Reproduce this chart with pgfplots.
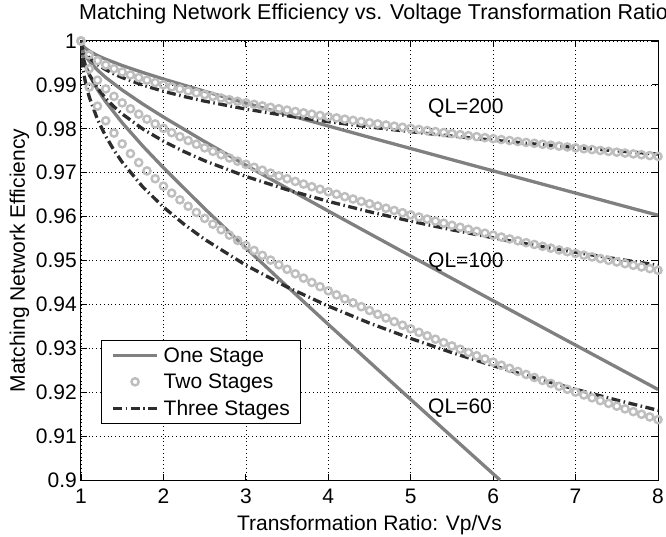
\documentclass[border=0pt]{standalone}
\usepackage{fontspec}
\setmainfont{Liberation Sans}
\usepackage{pgfplots}
\usepackage{pgfplotstable}
\pgfplotsset{compat=1.18}
\definecolor{oneC}{RGB}{128,128,128}
\definecolor{twoC}{RGB}{190,190,190}
\definecolor{threeC}{RGB}{45,45,45}
\newcommand{\fs}{\fontsize{21}{25}\selectfont}
\pgfplotsset{
  linelegend/.style={legend image code/.code={\draw[##1] (0pt,0pt) -- (44pt,0pt);}},
  marklegend/.style={legend image code/.code={\path (0pt,0pt) (44pt,0pt); \draw[##1] plot coordinates {(22pt,0pt)};}},
  onestyle/.style={oneC, line width=3.3pt},
  twostyle/.style={twoC, only marks, mark=o, mark size=3.6pt, line width=2.4pt, mark options={solid, line width=2.4pt, draw=twoC, fill=none}},
  threestyle/.style={threeC, line width=3.3pt, dash pattern=on 9pt off 3.5pt on 1.5pt off 3.5pt},
}

% One stage: QL=200 (a), QL=100 (b)
\pgfplotstableread{
x a b
1 1 1
1.01 0.99929 0.99858
1.02 0.99900 0.99799
1.05 0.99840 0.99680
1.1 0.99771 0.99542
1.2 0.99668 0.99337
1.3 0.99585 0.99169
1.5 0.99441 0.98882
1.75 0.99282 0.98564
2 0.99134 0.98268
2.5 0.98854 0.97709
3 0.98586 0.97172
3.5 0.98323 0.96646
4 0.98064 0.96127
4.5 0.97806 0.95613
5 0.97551 0.95101
5.5 0.97296 0.94592
6 0.97042 0.94084
6.5 0.96789 0.93577
7 0.96536 0.93072
7.5 0.96283 0.92567
8 0.96031 0.92063
}\onestage

% One stage: QL=60 (ends where it leaves the axis at 0.9)
\pgfplotstableread{
x c
1 1
1.01 0.99764
1.02 0.99665
1.05 0.99466
1.1 0.99236
1.2 0.98894
1.3 0.98616
1.5 0.98137
1.75 0.97606
2 0.97113
2.5 0.96181
3 0.95286
3.5 0.94410
4 0.93545
4.5 0.92688
5 0.91835
5.5 0.90986
6 0.90140
6.083 0.90000
}\onestagesixty

% Two stages
\pgfplotstableread{
x a b c
1.0 1.00000 1.00000 1.00000
1.1 0.99684 0.99369 0.98949
1.2 0.99553 0.99108 0.98515
1.3 0.99453 0.98908 0.98183
1.4 0.99369 0.98739 0.97903
1.5 0.99294 0.98591 0.97657
1.6 0.99227 0.98457 0.97435
1.7 0.99165 0.98334 0.97231
1.8 0.99108 0.98219 0.97041
1.9 0.99054 0.98112 0.96863
2.0 0.99003 0.98010 0.96694
2.1 0.98954 0.97913 0.96535
2.2 0.98908 0.97821 0.96382
2.3 0.98863 0.97733 0.96236
2.4 0.98820 0.97648 0.96095
2.5 0.98779 0.97566 0.95959
2.6 0.98739 0.97486 0.95828
2.7 0.98700 0.97409 0.95701
2.8 0.98663 0.97335 0.95578
2.9 0.98626 0.97262 0.95458
3.0 0.98591 0.97192 0.95342
3.1 0.98556 0.97123 0.95228
3.2 0.98522 0.97056 0.95117
3.3 0.98489 0.96990 0.95009
3.4 0.98457 0.96926 0.94903
3.5 0.98425 0.96863 0.94799
3.6 0.98394 0.96801 0.94697
3.7 0.98364 0.96741 0.94598
3.8 0.98334 0.96681 0.94500
3.9 0.98304 0.96623 0.94404
4.0 0.98275 0.96566 0.94310
4.1 0.98247 0.96510 0.94217
4.2 0.98219 0.96454 0.94126
4.3 0.98192 0.96400 0.94036
4.4 0.98165 0.96346 0.93948
4.5 0.98138 0.96293 0.93861
4.6 0.98112 0.96241 0.93775
4.7 0.98086 0.96190 0.93691
4.8 0.98060 0.96139 0.93608
4.9 0.98035 0.96089 0.93526
5.0 0.98010 0.96040 0.93444
5.1 0.97985 0.95991 0.93364
5.2 0.97961 0.95943 0.93285
5.3 0.97937 0.95896 0.93207
5.4 0.97913 0.95849 0.93130
5.5 0.97890 0.95802 0.93054
5.6 0.97867 0.95757 0.92979
5.7 0.97844 0.95711 0.92904
5.8 0.97821 0.95666 0.92830
5.9 0.97799 0.95622 0.92758
6.0 0.97776 0.95578 0.92685
6.1 0.97754 0.95534 0.92614
6.2 0.97733 0.95491 0.92543
6.3 0.97711 0.95449 0.92473
6.4 0.97690 0.95406 0.92404
6.5 0.97669 0.95365 0.92335
6.6 0.97648 0.95323 0.92267
6.7 0.97627 0.95282 0.92200
6.8 0.97606 0.95241 0.92133
6.9 0.97586 0.95201 0.92067
7.0 0.97566 0.95161 0.92002
7.1 0.97545 0.95121 0.91937
7.2 0.97526 0.95082 0.91872
7.3 0.97506 0.95043 0.91808
7.4 0.97486 0.95004 0.91745
7.5 0.97467 0.94966 0.91682
7.6 0.97447 0.94928 0.91620
7.7 0.97428 0.94890 0.91558
7.8 0.97409 0.94853 0.91497
7.9 0.97390 0.94815 0.91436
8.0 0.97372 0.94778 0.91375
}\twostage

% Three stages
\pgfplotstableread{
x a b c
1 1 1 1
1.01 0.99878 0.99755 0.99593
1.02 0.99827 0.99655 0.99425
1.05 0.99728 0.99456 0.99094
1.1 0.99616 0.99234 0.98725
1.2 0.99462 0.98925 0.98213
1.3 0.99346 0.98694 0.97830
1.4 0.99250 0.98503 0.97514
1.5 0.99167 0.98338 0.97240
1.75 0.98995 0.97996 0.96675
2 0.98855 0.97718 0.96217
2.25 0.98735 0.97481 0.95826
2.5 0.98630 0.97272 0.95482
3 0.98449 0.96915 0.94893
3.5 0.98296 0.96612 0.94396
4 0.98162 0.96347 0.93962
4.5 0.98042 0.96110 0.93574
5 0.97934 0.95896 0.93224
5.5 0.97834 0.95699 0.92902
6 0.97741 0.95517 0.92604
6.5 0.97655 0.95347 0.92326
7 0.97574 0.95187 0.92066
7.5 0.97497 0.95036 0.91820
8 0.97424 0.94893 0.91588
}\threestage

\begin{document}
\begin{tikzpicture}
\begin{axis}[
  at={(0pt,0pt)}, anchor=south west,
  scale only axis, width=577pt, height=439pt,
  xmin=1, xmax=8, ymin=0.9, ymax=1,
  xtick={1,2,3,4,5,6,7,8},
  xticklabels={1,2,3,4,5,6,7,8},
  ytick={0.9,0.91,0.92,0.93,0.94,0.95,0.96,0.97,0.98,0.99,1},
  yticklabels={0.9,0.91,0.92,0.93,0.94,0.95,0.96,0.97,0.98,0.99,1},
  /pgf/number format/assume math mode=true,
  tick label style={font=\fs},
  yticklabel style={anchor=east, inner sep=0pt, xshift=-4pt},
  xticklabel style={anchor=north, inner sep=0pt, yshift=-9pt},
  grid=major,
  grid style={black, line width=0.6pt, dash pattern=on 0.6pt off 3.2pt},
  axis line style={black, line width=1pt},
  tick style={black, line width=0.9pt},
  major tick length=6pt,
  tick align=inside,
  tick pos=both,
  title={Matching Network Efficiency vs. Voltage Transformation Ratio},
  title style={font=\fontsize{21.5}{25}\selectfont, at={(axis description cs:-0.0035,1.0364)}, anchor=base west, inner sep=0pt},
  xlabel={Transformation Ratio: Vp/Vs},
  xlabel style={font=\fs, at={(axis description cs:0.5,-0.1139)}, anchor=base, inner sep=0pt},
  ylabel={Matching Network Efficiency},
  ylabel style={font=\fs, at={(axis description cs:-0.0971,0.5)}, anchor=base, inner sep=0pt},
  legend style={at={(axis description cs:0.0347,0.1276)}, anchor=south west,
    draw=black, line width=0.8pt, fill=white, font=\fs,
    inner xsep=10pt, inner ysep=6pt, row sep=8pt, column sep=4pt,
    nodes={inner xsep=1pt, inner ysep=1pt}},
  legend cell align=left,
]
\addplot[onestyle, linelegend] table[x=x,y=a] {\onestage};
\addlegendentry{One Stage}
\addplot[onestyle, forget plot] table[x=x,y=b] {\onestage};
\addplot[onestyle, forget plot] table[x=x,y=c] {\onestagesixty};

\addplot[twostyle, marklegend] table[x=x,y=a] {\twostage};
\addlegendentry{Two Stages}
\addplot[twostyle, forget plot] table[x=x,y=b] {\twostage};
\addplot[twostyle, forget plot] table[x=x,y=c] {\twostage};

\addplot[threestyle, linelegend] table[x=x,y=a] {\threestage};
\addlegendentry{Three Stages}
\addplot[threestyle, forget plot] table[x=x,y=b] {\threestage};
\addplot[threestyle, forget plot] table[x=x,y=c] {\threestage};

\node[anchor=west, font=\fs, inner sep=0pt] at (axis cs:5.21,0.9847) {QL=200};
\node[anchor=west, font=\fs, inner sep=0pt] at (axis cs:5.21,0.9497) {QL=100};
\node[anchor=west, font=\fs, inner sep=0pt] at (axis cs:5.21,0.9164) {QL=60};
\end{axis}
\pgfresetboundingbox
\useasboundingbox (-81pt,-56pt) rectangle (585pt,480pt);
\end{tikzpicture}
\end{document}
